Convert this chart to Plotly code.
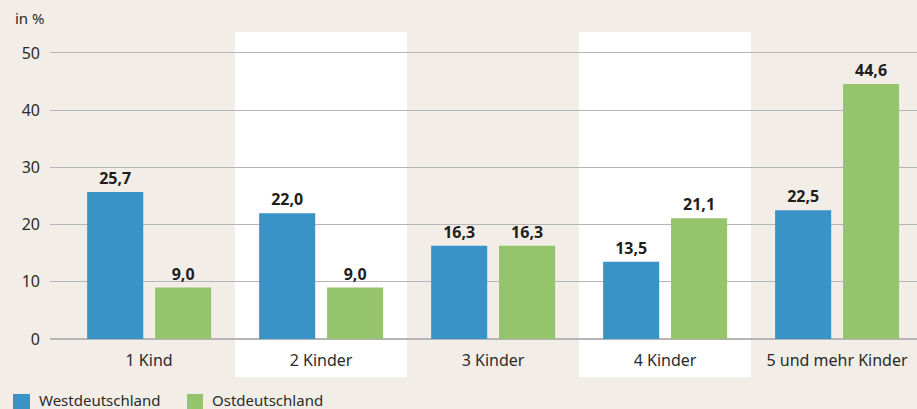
import plotly.graph_objects as go

categories = ["1 Kind", "2 Kinder", "3 Kinder", "4 Kinder", "5 und mehr Kinder"]
west = [25.7, 22.0, 16.3, 13.5, 22.5]
ost = [9.0, 9.0, 16.3, 21.1, 44.6]
series_names = ["Westdeutschland", "Ostdeutschland"]
y_ticks = [0, 10, 20, 30, 40, 50]
y_label = "in %"

BG = "#f2eee7"
BLUE = "#3a93c7"
GREEN = "#95c46d"
FONT = "Noto Sans"
TXT = "#2a2a2a"


def fmt(v):
    return f"{v:.1f}".replace(".", ",")


fig = go.Figure()
xs = list(range(len(categories)))
for name, vals, col, off in [(series_names[0], west, BLUE, -0.36), (series_names[1], ost, GREEN, 0.035)]:
    fig.add_trace(go.Bar(
        x=xs, y=vals, name=name, marker=dict(color=col, line=dict(width=0)),
        width=0.326, offset=off, showlegend=False,
        text=[fmt(v) for v in vals], textposition="outside",
        textfont=dict(family=FONT, size=16, color="#1e1e1e", weight="bold"),
        cliponaxis=False,
    ))

for i in (1, 3):
    fig.add_shape(type="rect", xref="x", yref="paper", x0=i - 0.5, x1=i + 0.5,
                  y0=-0.124, y1=1.0, fillcolor="white", line=dict(width=0), layer="below")

# legend (manual, so it can sit at the very bottom edge like the reference)
legend_items = [(series_names[0], BLUE, -0.0427, -0.0231, -0.015),
                (series_names[1], GREEN, 0.158, 0.1765, 0.1845)]
for name, col, sx0, sx1, tx in legend_items:
    fig.add_shape(type="rect", xref="paper", yref="paper", x0=sx0, x1=sx1,
                  y0=-0.238, y1=-0.179, fillcolor=col, line=dict(width=0))
    fig.add_annotation(text=name, xref="paper", yref="paper", x=tx, y=-0.199,
                       xanchor="left", yanchor="middle", showarrow=False,
                       font=dict(family=FONT, size=15, color=TXT))

fig.add_annotation(text=y_label, xref="paper", yref="paper", x=-0.0427, y=1.046,
                   xanchor="left", yanchor="middle", showarrow=False,
                   font=dict(family=FONT, size=15, color=TXT))

fig.update_layout(
    width=917, height=409,
    margin=dict(l=50, r=0, t=32, b=70),
    paper_bgcolor=BG, plot_bgcolor=BG,
    barmode="overlay",
    showlegend=False,
    font=dict(family=FONT, size=15, color=TXT),
    xaxis=dict(range=[-0.576, 4.465], tickmode="array", tickvals=xs, ticktext=categories,
               showgrid=False, zeroline=False, showline=False, ticks="", fixedrange=True,
               ticklabelstandoff=10,
               tickfont=dict(family=FONT, size=16, color=TXT)),
    yaxis=dict(range=[0, 53.67], tickvals=y_ticks, showgrid=True, gridcolor="#b5b5b5",
               gridwidth=1, zeroline=True, zerolinecolor="#b5b5b5", zerolinewidth=2,
               showline=False, ticks="", ticklabelstandoff=9,
               tickfont=dict(family=FONT, size=16, color=TXT)),
)

fig.write_html("out.html", config={"displayModeBar": False},
               post_script="document.body.style.margin='0';")
